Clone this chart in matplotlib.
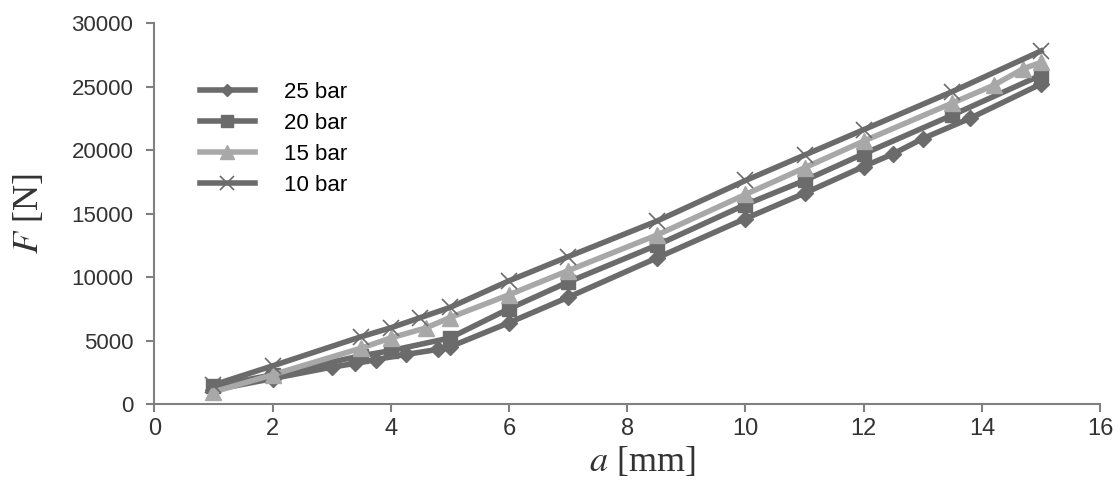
import matplotlib
matplotlib.use("Agg")
import matplotlib.pyplot as plt

plt.rcParams["font.family"] = ["Liberation Sans", "DejaVu Sans"]
plt.rcParams["mathtext.fontset"] = "stix"

# data
a_25 = [1, 2, 3, 3.4, 3.75, 4.25, 4.8, 5, 6, 7, 8.5, 10, 11, 12, 12.5, 13, 13.8, 15]
F_25 = [1100, 2000, 2900, 3200, 3500, 3900, 4300, 4500, 6400, 8400, 11500, 14600,
        16600, 18700, 19700, 20900, 22500, 25200]

a_20 = [1, 2, 3.5, 4, 5, 6, 7, 8.5, 10, 11, 12, 13.5, 15]
F_20 = [1400, 2300, 3800, 4200, 5200, 7500, 9600, 12500, 15700, 17600, 19700, 22750, 25900]

a_15 = [1, 2, 3.5, 4, 4.6, 5, 6, 7, 8.5, 10, 11, 12, 13.5, 14.2, 14.7, 15]
F_15 = [950, 2300, 4400, 5200, 6000, 6800, 8600, 10500, 13300, 16500, 18600, 20700,
        23700, 25100, 26400, 26900]

a_10 = [1, 2, 3.5, 4, 4.5, 5, 6, 7, 8.5, 10, 11, 12, 13.5, 15]
F_10 = [1500, 3000, 5300, 6000, 6800, 7600, 9700, 11600, 14400, 17600, 19600, 21600,
        24600, 27800]

labels = ["25 bar", "20 bar", "15 bar", "10 bar"]

fig = plt.figure(figsize=(11.18, 4.9), dpi=100)
ax = fig.add_axes([0.138, 0.1755, 0.846, 0.7775])

dark = "#6b6b6b"
light = "#a8a8a8"

ax.plot(a_25, F_25, color=dark, lw=4, marker="D", ms=8, mec=dark, mfc=dark, label=labels[0])
ax.plot(a_20, F_20, color=dark, lw=4, marker="s", ms=10, mec=dark, mfc=dark, label=labels[1])
ax.plot(a_15, F_15, color=light, lw=4, marker="^", ms=12, mec=light, mfc=light, label=labels[2])
ax.plot(a_10, F_10, color=dark, lw=4, marker="x", ms=12, mew=1.2, mec=dark, label=labels[3])

ax.set_xlim(0, 16)
ax.set_ylim(0, 30000)
ax.set_xticks(range(0, 17, 2))
ax.set_yticks(range(0, 30001, 5000))

for s in ["top", "right"]:
    ax.spines[s].set_visible(False)
for s in ["left", "bottom"]:
    ax.spines[s].set_color("#808080")
    ax.spines[s].set_linewidth(1.5)
ax.tick_params(colors="#808080", width=1.5, length=6, labelcolor="#333333")
ax.tick_params(axis="y", labelsize=16, pad=9)
ax.tick_params(axis="x", labelsize=17, pad=4)

ax.set_xlabel("$a$ [mm]", fontsize=26, family="Liberation Serif", color="#333333", labelpad=0)
ax.xaxis.set_label_coords(0.516, -0.108)
ax.set_ylabel("$F$ [N]", fontsize=26, family="Liberation Serif", color="#333333", labelpad=18)

ax.legend(loc="upper left", bbox_to_anchor=(0.048, 0.845), frameon=False, fontsize=16,
          borderpad=0, borderaxespad=0,
          handlelength=2.5, handletextpad=1.3, labelspacing=0.45, markerscale=0.8)

fig.savefig("out.png", dpi=100)
